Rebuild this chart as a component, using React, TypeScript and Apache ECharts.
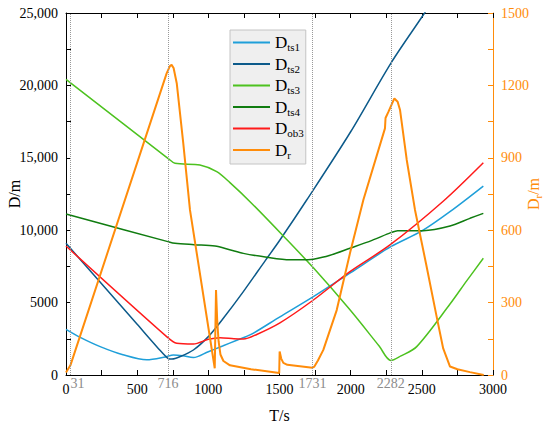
import React, { useEffect, useRef } from 'react';
import * as echarts from 'echarts';

const FONT = "'Liberation Serif', 'Times New Roman', serif";

// x ticks / y ticks
const xMin = 0, xMax = 3000, xStep = 500;
const yMin = 0, yMax = 25000, yStep = 5000;
const y2Min = 0, y2Max = 1500, y2Step = 300;

// marked instants
const markT = [31, 716, 1731, 2282];

// D_ts1
const ts1T = [0, 100, 240, 400, 567, 700, 754, 820, 895, 1000, 1100, 1200, 1300, 1500, 1738, 2000, 2282, 2500, 2700, 2932];
const ts1D = [3155, 2600, 1960, 1400, 1050, 1250, 1380, 1330, 1200, 1610, 2000, 2400, 2800, 4000, 5410, 7070, 8860, 9950, 11300, 13050];

// D_ts2
const ts2T = [0, 250, 500, 650, 716, 745, 801, 895, 1000, 1100, 1246, 1400, 1503, 1691, 2000, 2282, 2510, 2600];
const ts2D = [9094, 6300, 3500, 1820, 1150, 1100, 1266, 1727, 2650, 3850, 5760, 7900, 9320, 12085, 16800, 21525, 24860, 26200];

// D_ts3
const ts3T = [0, 716, 766, 941, 1059, 1150, 1300, 1527, 1738, 1995, 2200, 2282, 2350, 2464, 2698, 2815, 2932];
const ts3D = [20420, 14965, 14620, 14500, 14040, 13300, 11900, 9600, 7400, 4500, 2000, 1000, 1300, 1960, 4900, 6500, 8060];

// D_ts4
const ts4T = [0, 716, 766, 900, 1047, 1150, 1246, 1400, 1574, 1700, 1738, 1850, 1995, 2150, 2282, 2330, 2510, 2698, 2838, 2932];
const ts4D = [11120, 9210, 9094, 9000, 8910, 8650, 8400, 8150, 7960, 7960, 7990, 8250, 8750, 9300, 9830, 9970, 9970, 10290, 10820, 11165];

// D_ob3
const ob3T = [0, 707, 778, 895, 1000, 1082, 1180, 1246, 1340, 1503, 1738, 1995, 2276, 2650, 2932];
const ob3D = [8910, 2650, 2190, 2140, 2465, 2580, 2500, 2480, 2800, 3600, 5180, 7140, 8980, 12000, 14660];

// D_r (right axis)
const drT = [0, 31, 707, 730, 742, 756, 778, 824, 871, 1045, 1054, 1062, 1072, 1085, 1106, 1152, 1300, 1498, 1501, 1512, 1527, 1555, 1731, 1745, 1770, 1808, 1902, 1995, 2089, 2241, 2245, 2265, 2307, 2330, 2347, 2394, 2452, 2530, 2604, 2650, 2698, 2750, 2838, 2935];
const drV = [10, 40, 1250, 1280, 1285, 1272, 1209, 960, 684, 28, 352, 230, 140, 85, 58, 40, 24, 8, 97, 68, 50, 42, 30, 35, 60, 104, 269, 504, 725, 1022, 1065, 1090, 1146, 1132, 1098, 891, 684, 460, 242, 110, 35, 24, 12, 0];

const names = ['Dts1', 'Dts2', 'Dts3', 'Dts4', 'Dob3', 'Dr'];
const colors = ['#1f9fd9', '#0c5a8a', '#4dc21f', '#107c10', '#ff1a1a', '#ff8c0a'];

const zip = (t: number[], v: number[]) => t.map((x, i) => [x, v[i]]);

const orange = '#ff8c0a';

const tickCommon = (color: string) => ({
  axisLine: { show: true, onZero: false, lineStyle: { color, width: 1 } },
  axisTick: { show: true, inside: true, length: 5, lineStyle: { color } },
  minorTick: { show: true, splitNumber: 2, length: 5, lineStyle: { color } },
  splitLine: { show: false },
  minorSplitLine: { show: false },
});

const richName = {
  a: { fontSize: 17, fontFamily: FONT, lineHeight: 20 },
  b: { fontSize: 11, fontFamily: FONT, lineHeight: 10, verticalAlign: 'bottom' },
};

export default function App() {
  const ref = useRef<HTMLDivElement>(null);
  useEffect(() => {
    document.body.style.margin = '0';
    const chart = echarts.init(ref.current!, null, { renderer: 'svg' });
    const dataSets = [zip(ts1T, ts1D), zip(ts2T, ts2D), zip(ts3T, ts3D), zip(ts4T, ts4D), zip(ob3T, ob3D), zip(drT, drV)];
    const series: any[] = dataSets.map((d, i) => ({
      name: names[i],
      type: 'line',
      data: d,
      yAxisIndex: i === 5 ? 1 : 0,
      showSymbol: false,
      symbol: 'none',
      smooth: i === 5 ? false : 0.3,
      lineStyle: { color: colors[i], width: i === 5 ? 2 : 1.5 },
      itemStyle: { color: colors[i] },
      z: i === 5 ? 3 : 2,
    }));
    series[0].markLine = {
      silent: true,
      symbol: ['none', 'none'],
      animation: false,
      lineStyle: { type: 'dotted', color: '#999', width: 1 },
      label: {
        show: true,
        position: 'start',
        distance: 1,
        color: '#8c8c8c',
        fontSize: 14,
        fontFamily: FONT,
        formatter: (p: any) => String(p.value),
      },
      data: markT.map((t, i) => (i === 0 ? { xAxis: t, label: { padding: [0, 0, 0, 14] } } : { xAxis: t })),
    };

    chart.setOption({
      animation: false,
      textStyle: { fontFamily: FONT },
      grid: { left: 66, right: 57, top: 13, bottom: 47, containLabel: false, outerBoundsMode: 'none' },
      legend: {
        data: names,
        orient: 'vertical',
        left: 230,
        top: 30,
        itemWidth: 37,
        itemHeight: 2,
        itemGap: 3,
        icon: 'rect',
        padding: [4, 2, 4, 3],
        backgroundColor: '#efefef',
        borderColor: '#c4c4c4',
        borderWidth: 1,
        selectedMode: false,
        formatter: (n: string) => `{a|D}{b|${n.slice(1)}}`,
        textStyle: { color: '#000', rich: richName },
      },
      xAxis: [
        {
          type: 'value',
          min: xMin,
          max: xMax,
          interval: xStep,
          position: 'bottom',
          name: 'T/s',
          nameLocation: 'middle',
          nameGap: 32,
          nameMoveOverlap: false,
          nameTextStyle: { color: '#000', fontSize: 16, fontFamily: FONT },
          ...tickCommon('#000'),
          axisLabel: { color: '#000', fontSize: 14, fontFamily: FONT, margin: 7, formatter: (v: number) => String(v) },
        },
        {
          type: 'value',
          min: xMin,
          max: xMax,
          interval: xStep,
          position: 'top',
          ...tickCommon('#000'),
          axisLabel: { show: false },
        },
      ],
      yAxis: [
        {
          type: 'value',
          min: yMin,
          max: yMax,
          interval: yStep,
          position: 'left',
          name: 'D/m',
          nameLocation: 'middle',
          nameGap: 44,
          nameRotate: 90,
          nameMoveOverlap: false,
          nameTextStyle: { color: '#000', fontSize: 16, fontFamily: FONT },
          ...tickCommon('#000'),
          axisLabel: {
            color: '#000',
            fontSize: 14,
            fontFamily: FONT,
            margin: 8,
            formatter: (v: number) => (v >= 10000 ? v.toLocaleString('en-US') : String(v)),
          },
        },
        {
          type: 'value',
          min: y2Min,
          max: y2Max,
          interval: y2Step,
          position: 'right',
          name: '{a|D}{b|r}{a|/m}',
          nameLocation: 'middle',
          nameGap: 30,
          nameRotate: 90,
          nameMoveOverlap: false,
          nameTextStyle: {
            color: orange,
            rich: {
              a: { fontSize: 16, fontFamily: FONT, lineHeight: 20, color: orange },
              b: { fontSize: 11, fontFamily: FONT, lineHeight: 10, verticalAlign: 'bottom', color: orange },
            },
          },
          ...tickCommon(orange),
          axisLabel: { color: orange, fontSize: 14, fontFamily: FONT, margin: 8, formatter: (v: number) => String(v) },
        },
      ],
      series,
    });
    return () => chart.dispose();
  }, []);
  return <div ref={ref} style={{ width: 550, height: 422 }} />;
}
